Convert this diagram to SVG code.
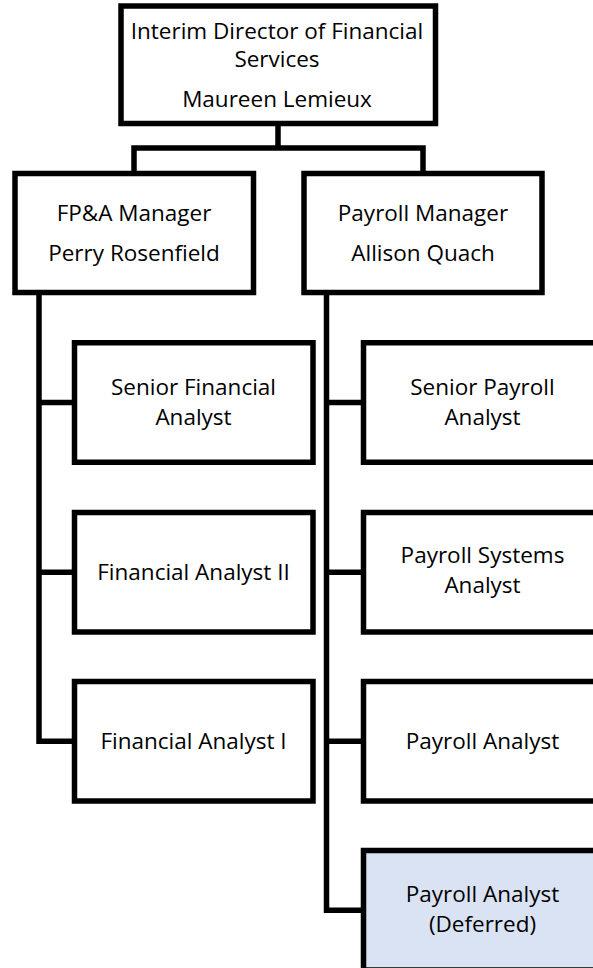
<svg xmlns="http://www.w3.org/2000/svg" width="593" height="968" viewBox="0 0 593 968">
<style>
.box{fill:#ffffff;stroke:#000000;stroke-width:5.5}
.box.deferred{fill:#dae3f3}
.conn{fill:none;stroke:#000000;stroke-width:5.5;stroke-linejoin:miter;stroke-linecap:butt}
text{font-family:"Open Sans",Lato,"Liberation Sans",sans-serif;font-size:22.5px;fill:#000000;text-anchor:middle}
</style>
<rect width="593" height="968" fill="#ffffff"/>
<g id="connectors">
<path class="conn" d="M278 126 V148"/>
<path class="conn" d="M134 171 V148 H423 V171"/>
<path class="conn" d="M39 295 V741.25 H72"/>
<path class="conn" d="M39 402.5 H72"/>
<path class="conn" d="M39 572.25 H72"/>
<path class="conn" d="M326.5 295 V910.25 H361"/>
<path class="conn" d="M326.5 402.5 H361"/>
<path class="conn" d="M326.5 572.25 H361"/>
<path class="conn" d="M326.5 741.25 H361"/>
</g>
<g id="director">
<rect class="box" x="121" y="6" width="314.5" height="117.5"/>
<text x="277" y="39">Interim Director of Financial</text>
<text x="277" y="67">Services</text>
<text x="277" y="107">Maureen Lemieux</text>
</g>
<g id="fpa-manager">
<rect class="box" x="15" y="173.5" width="238.5" height="119"/>
<text x="134" y="221">FP&amp;A Manager</text>
<text x="134" y="261">Perry Rosenfield</text>
</g>
<g id="payroll-manager">
<rect class="box" x="304" y="173.5" width="238" height="119"/>
<text x="423" y="221">Payroll Manager</text>
<text x="423" y="261">Allison Quach</text>
</g>
<g id="senior-financial-analyst">
<rect class="box" x="74.5" y="342.75" width="238.5" height="119.5"/>
<text x="193.5" y="395">Senior Financial</text>
<text x="193.5" y="425">Analyst</text>
</g>
<g id="financial-analyst-2">
<rect class="box" x="74.5" y="512.5" width="238.5" height="119.5"/>
<text x="193.5" y="580">Financial Analyst II</text>
</g>
<g id="financial-analyst-1">
<rect class="box" x="74.5" y="681.5" width="238.5" height="119.5"/>
<text x="193.5" y="749">Financial Analyst I</text>
</g>
<g id="senior-payroll-analyst">
<rect class="box" x="363.5" y="342.75" width="238.5" height="119.5"/>
<text x="482.5" y="395">Senior Payroll</text>
<text x="482.5" y="425">Analyst</text>
</g>
<g id="payroll-systems-analyst">
<rect class="box" x="363.5" y="512.5" width="238.5" height="119.5"/>
<text x="482.5" y="563">Payroll Systems</text>
<text x="482.5" y="593">Analyst</text>
</g>
<g id="payroll-analyst">
<rect class="box" x="363.5" y="681.5" width="238.5" height="119.5"/>
<text x="482.5" y="748.5">Payroll Analyst</text>
</g>
<g id="payroll-analyst-deferred">
<rect class="box deferred" x="363.5" y="850.5" width="238.5" height="119.5"/>
<text x="482.5" y="902">Payroll Analyst</text>
<text x="482.5" y="932">(Deferred)</text>
</g>
</svg>
